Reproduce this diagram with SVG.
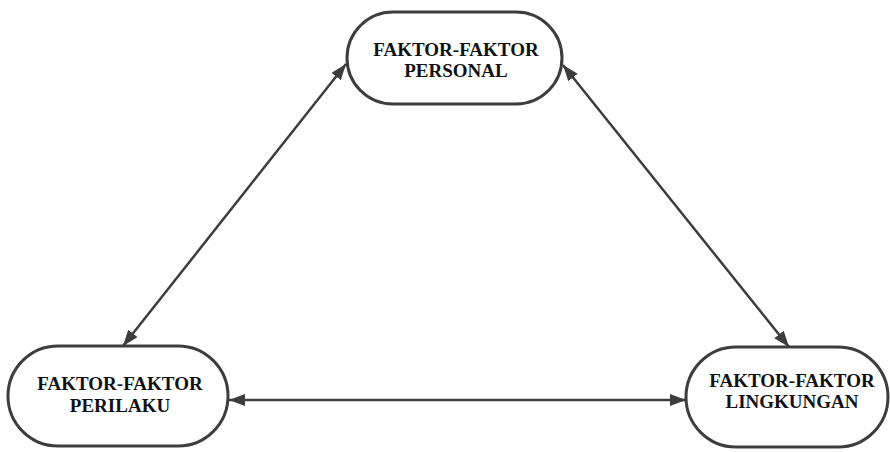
<svg xmlns="http://www.w3.org/2000/svg" width="890" height="452" viewBox="0 0 890 452">
<defs>
<marker id="ah" viewBox="0 0 16 12" refX="16" refY="6" markerWidth="16" markerHeight="12" markerUnits="userSpaceOnUse" orient="auto-start-reverse">
<path d="M0,0 L16,6 L0,12 z" fill="#3d3d3d"/>
</marker>
</defs>
<style>
.node{fill:#ffffff;stroke:#3d3d3d;stroke-width:3}
.lbl{font-family:"Liberation Serif","Times New Roman",serif;font-weight:bold;font-size:19px;fill:#111111;text-anchor:middle}
.conn{stroke:#3d3d3d;stroke-width:2.5;fill:none;marker-start:url(#ah);marker-end:url(#ah)}
</style>
<rect width="890" height="452" fill="#ffffff"/>
<g id="connectors">
<line class="conn" x1="346" y1="64" x2="123" y2="346"/>
<line class="conn" x1="563" y1="65" x2="789" y2="347"/>
<line class="conn" x1="229" y1="400" x2="686" y2="400"/>
</g>
<g id="personal">
<rect class="node" x="347" y="12" width="215" height="92" rx="46" ry="46"/>
<text class="lbl" x="456" y="56">FAKTOR-FAKTOR</text>
<text class="lbl" x="456" y="77">PERSONAL</text>
</g>
<g id="perilaku">
<rect class="node" x="8" y="346" width="220" height="100" rx="50" ry="50"/>
<text class="lbl" x="120" y="390">FAKTOR-FAKTOR</text>
<text class="lbl" x="120" y="412">PERILAKU</text>
</g>
<g id="lingkungan">
<rect class="node" x="686" y="347" width="202" height="100" rx="50" ry="50"/>
<text class="lbl" x="792" y="387">FAKTOR-FAKTOR</text>
<text class="lbl" x="792" y="408">LINGKUNGAN</text>
</g>
</svg>
